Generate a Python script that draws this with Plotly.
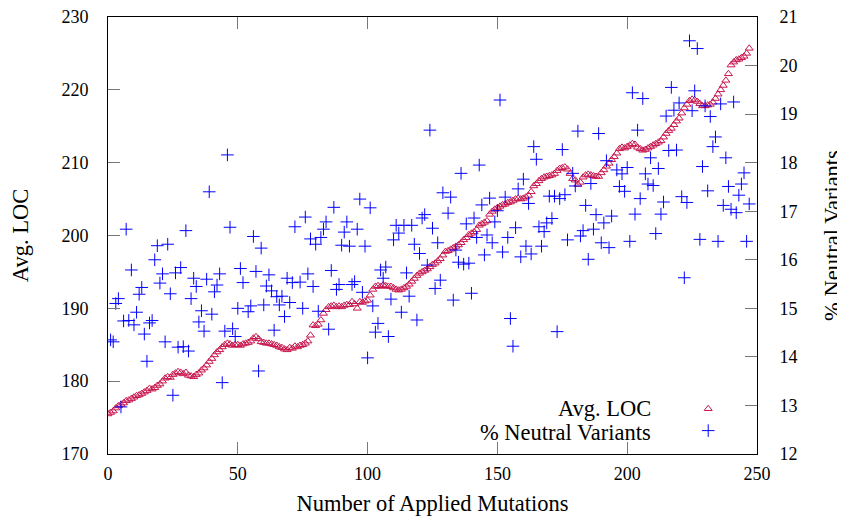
import plotly.graph_objects as go

# ---------------- data ----------------
loc_x = list(range(0, 248))
loc_y = [
    175.5, 175.7, 175.9, 176.3, 176.6, 176.8, 177.0, 177.3, 177.4, 177.6,
    177.8, 178.0, 178.1, 178.3, 178.5, 178.7, 179.0, 178.9, 179.1, 179.4,
    179.6, 180.0, 180.4, 180.6, 180.5, 180.9, 181.1, 181.3, 181.2, 181.0,
    181.2, 180.8, 180.7, 180.6, 180.9, 181.1, 181.5, 181.8, 182.2, 182.7,
    183.1, 183.6, 184.0, 184.3, 184.7, 185.0, 185.2, 185.1, 184.9, 185.0,
    185.0, 184.9, 185.1, 185.2, 185.3, 185.5, 185.9, 186.1, 185.8, 185.4,
    185.3, 185.2, 185.2, 185.1, 185.0, 184.9, 184.7, 184.6, 184.4, 184.3,
    184.6, 184.5, 184.8, 184.7, 184.9, 185.0, 185.2, 185.5, 186.3, 187.7,
    187.6, 187.8, 188.4, 189.3, 189.8, 190.2, 190.3, 190.4, 190.2, 190.3,
    190.2, 190.4, 190.5, 190.5, 190.9, 190.6, 190.0, 190.9, 190.8, 191.0,
    191.1, 191.8, 192.6, 193.0, 193.1, 193.0, 193.2, 193.1, 193.0, 193.0,
    192.8, 192.6, 192.5, 192.6, 192.8, 193.0, 193.3, 193.7, 194.1, 194.5,
    194.8, 195.0, 195.2, 195.4, 195.7, 196.0, 196.2, 196.5, 196.8, 197.3,
    197.8, 197.9, 198.1, 198.3, 198.5, 198.7, 199.0, 199.4, 199.7, 200.1,
    200.3, 200.5, 200.8, 201.4, 201.6, 201.8, 202.0, 202.9, 203.3, 203.6,
    203.8, 204.0, 204.2, 204.3, 204.5, 204.6, 204.8, 205.0, 205.1, 205.0,
    205.1, 205.3, 205.5, 206.0, 206.8, 207.1, 207.5, 207.8, 208.0, 208.1,
    208.2, 208.3, 208.5, 208.9, 209.2, 209.3, 209.4, 209.1, 208.5, 207.8,
    207.6, 207.0, 207.3, 208.0, 208.3, 208.4, 208.3, 208.2, 208.1, 208.1,
    208.6, 209.0, 209.5, 209.9, 210.4, 210.8, 211.3, 211.9, 212.1, 212.0,
    212.2, 212.4, 212.6, 212.5, 212.1, 211.9, 211.7, 211.8, 212.0, 212.2,
    212.4, 212.6, 212.8, 213.0, 213.5, 214.0, 214.4, 214.7, 215.2, 215.7,
    216.1, 216.8, 217.5, 218.0, 218.5, 218.7, 218.6, 218.4, 218.1, 217.8,
    217.8, 217.9, 218.0, 218.3, 218.8, 219.4, 220.0, 220.6, 221.3, 222.2,
    223.4, 223.8, 224.1, 224.2, 224.4, 224.6, 225.0, 225.7,
]

neutral_x = [
    1, 2, 3, 4, 5, 6, 7, 8, 9, 10, 11, 12, 13, 14, 15, 16, 17, 18, 19, 20,
    21, 22, 23, 24, 25, 26, 27, 28, 29, 30, 31, 32, 33, 34, 35,
    36, 37, 38, 39, 40, 41, 42, 43, 44, 45, 46, 47, 48, 49, 50, 51, 52,
    54, 55, 56, 57, 58, 59, 60, 61, 62, 63, 64, 65, 66, 67, 68, 69, 70, 71, 72,
    74, 75, 76, 77, 78, 79, 80, 81, 82, 83, 84, 85, 86, 87, 88, 89, 90, 91,
    92, 93, 94, 95, 96, 97, 98, 99, 100, 101, 102, 103, 104, 105, 106, 107, 108,
    109, 110, 111, 112, 113, 114, 115, 116, 117, 118, 119, 120, 121, 122, 123,
    124, 125, 126, 127, 128, 129, 131, 132, 133, 134, 135, 136, 137, 138, 139,
    140, 141, 142, 143,
    144, 145, 146, 147, 148, 149, 150, 151, 152, 153, 154, 155, 156, 157, 158,
    159, 160, 161, 162, 163, 164, 165, 166, 167, 168, 169, 170, 171, 172, 173,
    174, 175, 176, 177, 179,
    180, 181, 182, 183, 184, 185, 186, 187, 188, 189, 190, 191, 192, 193, 194,
    196, 197, 198, 199, 200, 201, 202, 203, 204, 205, 206, 207, 208, 209, 210,
    211, 212, 213, 214, 215, 216,
    217, 218, 219, 220, 221, 222, 223, 224, 225, 226, 227, 228, 229, 230, 231,
    232, 233, 234, 235, 236, 237, 238, 239, 240, 241, 242, 243, 244, 245, 246, 247,
]
neutral_y = [
    14.35, 14.31, 15.10, 15.20, 12.97, 14.74, 16.63, 14.75, 15.79, 14.66,
    14.92, 15.29, 15.43, 14.47, 13.91, 14.70, 14.75, 16.00, 16.29, 15.52,
    15.71, 14.31, 16.32, 15.30, 13.21, 15.73, 14.20, 15.84, 14.21, 16.60,
    14.12, 15.20, 15.62, 15.45, 14.72,
    14.95, 14.53, 15.60, 17.40, 14.88, 15.34, 15.48, 15.71, 13.47, 14.53,
    18.16, 16.67, 14.58, 14.42, 15.00, 15.82, 15.53,
    14.93, 15.05, 16.48, 15.76, 13.71, 16.24, 15.07, 15.46, 15.69, 15.36,
    14.55, 15.24, 15.07, 15.25, 14.83, 15.62, 15.12, 15.53, 16.68,
    15.54, 15.00, 16.88, 15.71, 16.43, 15.45, 16.32, 14.94, 16.46, 16.63,
    16.78, 14.57, 15.78, 17.08, 15.39, 15.49, 16.30, 16.57, 16.78,
    16.28, 15.49, 15.55, 16.63, 17.25, 15.33, 16.28, 13.98, 17.07, 15.05,
    14.51, 14.69, 15.79, 15.62, 15.85, 14.42,
    15.19, 16.41, 16.71, 16.55, 14.92, 16.71, 15.73, 15.25, 16.71, 16.32,
    14.76, 16.13, 16.86, 16.93, 15.89,
    18.67, 16.65, 15.41, 16.35, 15.58, 17.38, 16.96, 17.29, 15.17, 16.20,
    15.95, 17.78, 15.91, 16.74, 15.93,
    15.31, 16.86, 16.46, 17.95,
    17.13, 16.10, 16.51, 17.27, 16.35, 16.78, 17.01, 19.29, 16.16, 17.29,
    16.46, 14.79, 14.22, 16.66, 17.46,
    16.06, 17.66, 16.28, 17.16, 16.12, 18.33, 18.07, 16.68, 16.28, 16.58,
    16.76, 17.31, 16.85, 17.31, 14.52,
    17.26, 18.27, 17.34, 16.41, 17.78,
    17.52, 18.65, 16.49, 16.60, 17.12, 16.01, 17.57, 16.63, 16.93, 18.60,
    16.35, 16.76, 18.04, 16.25, 16.90,
    17.85, 17.51, 17.77, 17.41, 17.90, 16.38, 19.44, 16.94, 18.67, 17.26,
    19.32, 17.77, 17.56, 18.10, 17.53,
    16.54, 17.88, 16.94, 17.19, 18.96, 18.25,
    19.55, 19.08, 18.26, 19.23, 17.30, 15.63, 17.18, 20.51, 19.07, 19.48,
    20.35, 16.42, 17.92, 19.17, 17.42,
    18.95, 18.33, 18.53, 16.38, 19.21, 17.12, 18.10, 17.51, 17.04, 19.25,
    16.97, 17.33, 17.56, 17.79, 16.38, 17.15,
]

x_ticks = [0, 50, 100, 150, 200, 250]
y1_ticks = [170, 180, 190, 200, 210, 220, 230]
y2_ticks = [12, 13, 14, 15, 16, 17, 18, 19, 20, 21]

series_names = ["Avg. LOC", "% Neutral Variants"]
loc_color = "#C8174E"
neutral_color = "#0000FF"

FONT = "Liberation Serif"
TICK_SIZE = 18
TEXT_SIZE = 22.5

fig = go.Figure()
fig.add_trace(go.Scatter(
    x=loc_x, y=loc_y, mode="markers", name="", yaxis="y",
    marker=dict(symbol="triangle-up-open", size=7, color=loc_color,
                line=dict(width=1, color=loc_color)),
))
fig.add_trace(go.Scatter(
    x=neutral_x, y=neutral_y, mode="markers", name="", yaxis="y2",
    marker=dict(symbol="cross-thin-open", size=9, color=neutral_color,
                line=dict(width=1, color=neutral_color)),
))

axis_common = dict(
    showgrid=False, zeroline=False, showline=True, linecolor="black",
    linewidth=1, ticks="inside", ticklen=12, tickcolor="#777777",
    tickfont=dict(family=FONT, size=TICK_SIZE, color="black"),
    automargin=False, ticklabeloverflow="allow",
)

# page body has an 8px margin, so the figure is sized/offset to compensate
fig.update_layout(
    width=837, height=515,
    margin=dict(l=100, r=88, t=9, b=69),
    paper_bgcolor="white", plot_bgcolor="white",
    font=dict(family=FONT, size=TICK_SIZE, color="black"),
    xaxis=dict(
        range=[0, 250], tickvals=x_ticks, mirror="ticks",
        title=dict(text="Number of Applied Mutations", font=dict(family=FONT, size=TEXT_SIZE), standoff=12),
        ticklabelstandoff=3,
        **axis_common,
    ),
    yaxis=dict(
        range=[170, 230], tickvals=y1_ticks, mirror=True,
        title=dict(text="Avg. LOC", font=dict(family=FONT, size=TEXT_SIZE), standoff=28),
        ticklabelstandoff=15,
        **axis_common,
    ),
    yaxis2=dict(
        range=[12, 21], tickvals=y2_ticks, overlaying="y", side="right",
        title=dict(text="% Neutral Variants", font=dict(family=FONT, size=TEXT_SIZE), standoff=28),
        ticklabelstandoff=18,
        **axis_common,
    ),
    showlegend=True,
    legend=dict(
        x=0.894, y=0.14, xanchor="left", yanchor="top",
        bgcolor="rgba(0,0,0,0)", font=dict(family=FONT, size=14.5),
        tracegroupgap=0, itemwidth=30,
    ),
    annotations=[
        dict(text=series_names[0], xref="paper", yref="paper", x=0.84, y=0.105,
             xanchor="right", yanchor="middle", showarrow=False,
             font=dict(family=FONT, size=TEXT_SIZE)),
        dict(text=series_names[1], xref="paper", yref="paper", x=0.84, y=0.050,
             xanchor="right", yanchor="middle", showarrow=False,
             font=dict(family=FONT, size=TEXT_SIZE)),
    ],
)

fig.write_html("out.html")
